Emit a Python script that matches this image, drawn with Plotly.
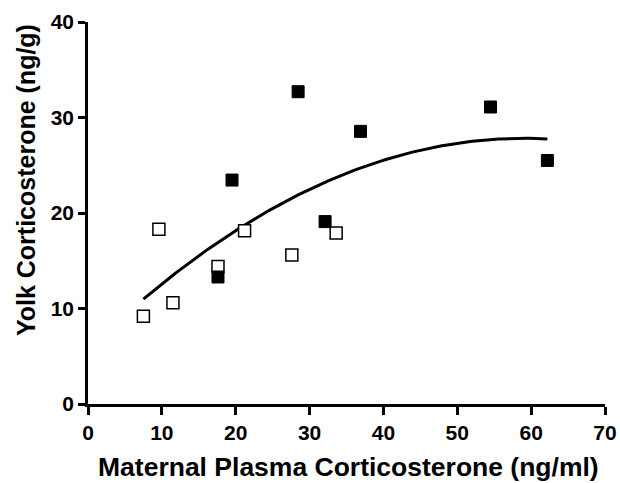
import numpy as np
import plotly.graph_objects as go

# Open squares
open_x = [7.5, 9.6, 11.5, 17.6, 21.2, 27.6, 33.6]
open_y = [9.2, 18.3, 10.6, 14.4, 18.15, 15.6, 17.9]
# Filled squares
filled_x = [17.6, 19.5, 28.45, 32.1, 36.9, 54.5, 62.2]
filled_y = [13.3, 23.45, 32.7, 19.1, 28.55, 31.1, 25.5]

x_ticks = [0, 10, 20, 30, 40, 50, 60, 70]
y_ticks = [0, 10, 20, 30, 40]

x_title = "Maternal Plasma Corticosterone (ng/ml)"
y_title = "Yolk Corticosterone (ng/g)"

# quadratic fit through all points
all_x = np.array(open_x + filled_x)
all_y = np.array(open_y + filled_y)
coef = np.polyfit(all_x, all_y, 2)
fx = np.linspace(min(all_x), max(all_x), 200)
fy = np.polyval(coef, fx)

fig = go.Figure()
fig.add_trace(go.Scatter(x=fx, y=fy, mode="lines", line=dict(color="black", width=3), showlegend=False, hoverinfo="skip"))
fig.add_trace(go.Scatter(x=open_x, y=open_y, mode="markers",
                         marker=dict(symbol="square", size=12, color="white", line=dict(color="black", width=1.5)),
                         showlegend=False))
fig.add_trace(go.Scatter(x=filled_x, y=filled_y, mode="markers",
                         marker=dict(symbol="square", size=12, color="black", line=dict(color="black", width=1)),
                         showlegend=False))

font_family = "Liberation Sans, Arial, sans-serif"
fig.update_layout(
    width=620, height=483,
    margin=dict(l=88, r=15, t=22, b=79),
    plot_bgcolor="white", paper_bgcolor="white",
    font=dict(family=font_family, color="black"),
)
fig.update_xaxes(range=[0, 70], tickvals=x_ticks, ticktext=[f"<b>{v}</b>" for v in x_ticks],
                 showline=True, linecolor="black", linewidth=2.5, ticks="outside", ticklen=8, tickwidth=2.5,
                 tickcolor="black", showgrid=False, zeroline=False, automargin=False,
                 tickfont=dict(size=21, family=font_family))
fig.update_yaxes(range=[0, 40], tickvals=y_ticks, ticktext=[f"<b>{v}</b>" for v in y_ticks],
                 showline=True, linecolor="black", linewidth=2.5, ticks="outside", ticklen=7, tickwidth=2.5,
                 tickcolor="black", showgrid=False, zeroline=False, automargin=False,
                 tickfont=dict(size=21, family=font_family))

fig.add_annotation(text=f"<b>{x_title}</b>", xref="paper", yref="paper", x=0.504, y=-0.165,
                   xanchor="center", yanchor="middle", showarrow=False,
                   font=dict(size=26.5, family=font_family, color="black"))
fig.add_annotation(text=f"<b>{y_title}</b>", xref="paper", yref="paper", x=-0.12, y=0.586,
                   xanchor="center", yanchor="middle", showarrow=False, textangle=-90,
                   font=dict(size=25, family=font_family, color="black"))

fig.write_html("out.html", config={"displayModeBar": False},
               post_script="document.body.style.margin='0';document.body.style.overflow='hidden';")
